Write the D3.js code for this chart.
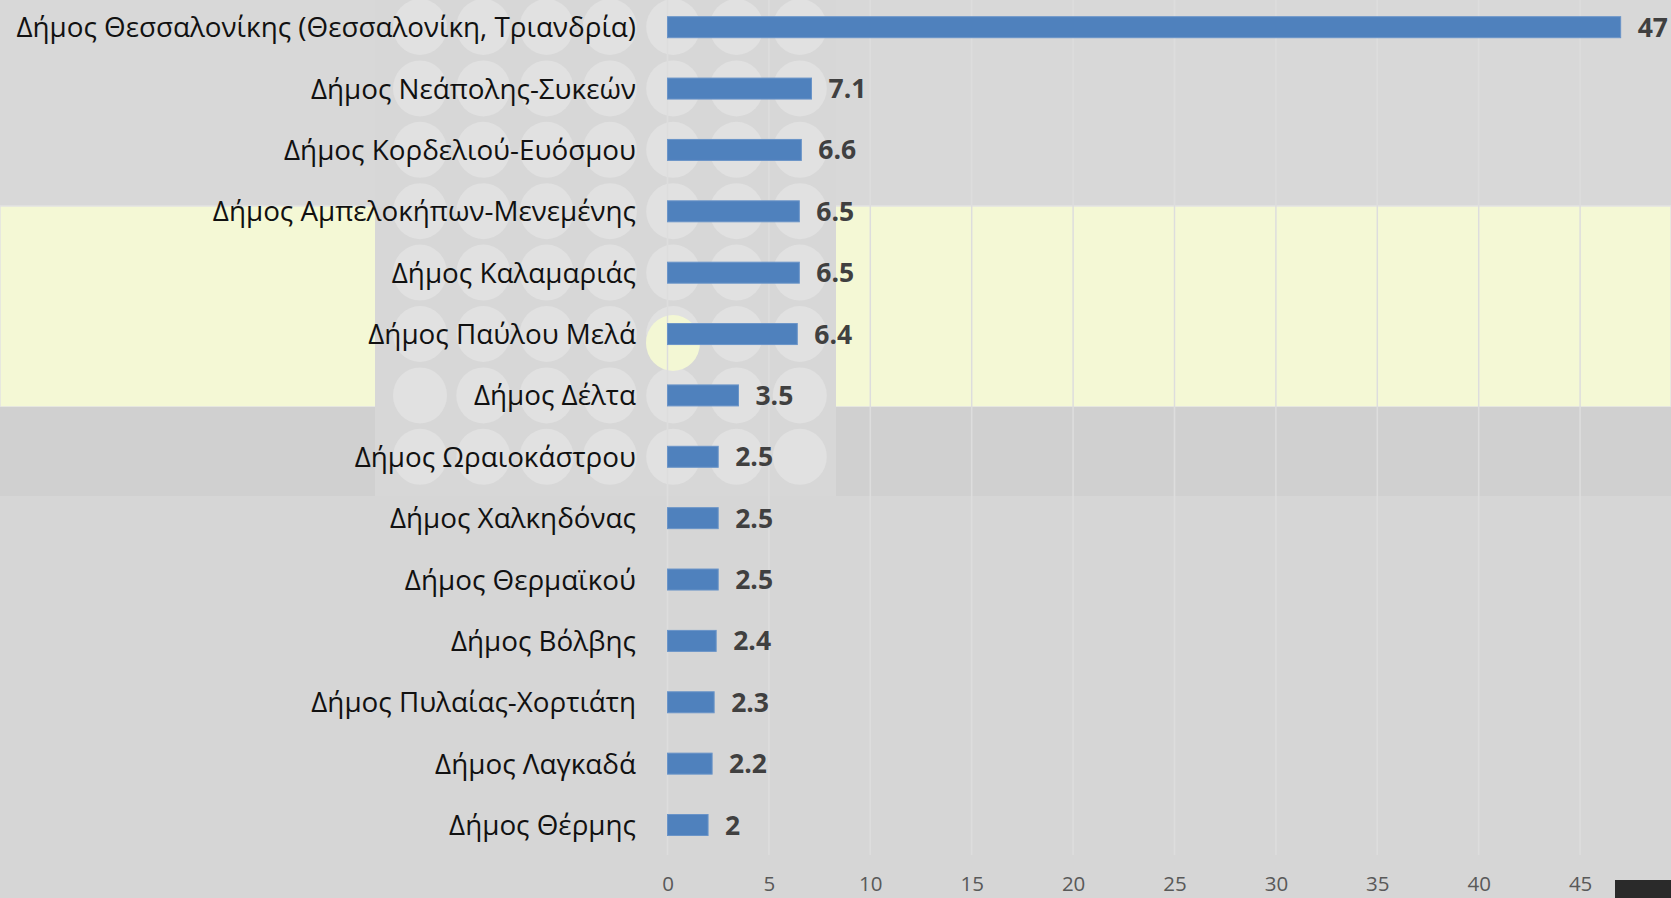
<!DOCTYPE html>
<html>
<head>
<meta charset="utf-8">
<script src="https://cdn.jsdelivr.net/npm/d3@7"></script>
<style>
  html, body { margin: 0; padding: 0; background: #d6d6d6; overflow: hidden; }
  svg { display: block; font-family: "Open Sans", "Noto Sans", sans-serif; }
</style>
</head>
<body>
<div id="chart"></div>
<script>
const categories = [
  "Δήμος Θεσσαλονίκης (Θεσσαλονίκη, Τριανδρία)",
  "Δήμος Νεάπολης-Συκεών",
  "Δήμος Κορδελιού-Ευόσμου",
  "Δήμος Αμπελοκήπων-Μενεμένης",
  "Δήμος Καλαμαριάς",
  "Δήμος Παύλου Μελά",
  "Δήμος Δέλτα",
  "Δήμος Ωραιοκάστρου",
  "Δήμος Χαλκηδόνας",
  "Δήμος Θερμαϊκού",
  "Δήμος Βόλβης",
  "Δήμος Πυλαίας-Χορτιάτη",
  "Δήμος Λαγκαδά",
  "Δήμος Θέρμης"
];
const values = [47, 7.1, 6.6, 6.5, 6.5, 6.4, 3.5, 2.5, 2.5, 2.5, 2.4, 2.3, 2.2, 2];
const xTicks = [0, 5, 10, 15, 20, 25, 30, 35, 40, 45];

const width = 1671, height = 898;

const svg = d3.select("#chart").append("svg")
  .attr("width", width)
  .attr("height", height);

// background: gray page with a pale yellow band and a dotted strip
const bg = svg.append("g");
bg.append("rect").attr("width", width).attr("height", height).attr("fill", "#d6d6d6");
bg.append("rect").attr("x", 0).attr("y", 0).attr("width", width).attr("height", 206).attr("fill", "#d8d8d8");
bg.append("rect").attr("x", 0).attr("y", 206).attr("width", width).attr("height", 201)
  .attr("fill", "#f4f8d5").attr("stroke", "#e2e2e2").attr("stroke-width", 1.5);
bg.append("rect").attr("x", 0).attr("y", 407).attr("width", width).attr("height", 89).attr("fill", "#d0d0d0");

// dotted strip behind the labels
var strip = bg.append("g");
strip.append("rect").attr("x", 375).attr("y", 0).attr("width", 461).attr("height", 496).attr("fill", "#d7d7d7");
var dotCols = d3.range(7), dotRows = d3.range(8);
dotRows.forEach(function (r) {
  dotCols.forEach(function (c) {
    strip.append("ellipse")
      .attr("cx", 420 + c * 63.3)
      .attr("cy", 27 + r * 61.4)
      .attr("rx", 27)
      .attr("ry", 28)
      .attr("fill", "#e1e1e1");
  });
});
strip.append("ellipse").attr("cx", 673).attr("cy", 343).attr("rx", 27).attr("ry", 28).attr("fill", "#f3f7d4");

// scales
var x = d3.scaleLinear().domain([0, 50]).range([667.5, 667.5 + 50 * 20.28]);
var step = 61.37;
var y = d3.scaleBand()
  .domain(categories)
  .range([27.2 - step / 2, 27.2 - step / 2 + step * categories.length])
  .paddingInner(0.658)
  .paddingOuter(0.329);

// gridlines
svg.append("g")
  .selectAll("line")
  .data(xTicks)
  .enter()
  .append("line")
  .attr("x1", d => x(d))
  .attr("x2", d => x(d))
  .attr("y1", 0)
  .attr("y2", 855)
  .attr("stroke", "#dddddd")
  .attr("stroke-width", 1.5);

// bars
svg.append("g")
  .selectAll("rect")
  .data(values)
  .enter()
  .append("rect")
  .attr("x", x(0))
  .attr("y", (d, i) => y(categories[i]))
  .attr("width", d => x(d) - x(0))
  .attr("height", y.bandwidth())
  .attr("fill", "#4f81bd")
  .attr("stroke", "#6a94c8")
  .attr("stroke-width", 1);

// value labels
svg.append("g")
  .selectAll("text")
  .data(values)
  .enter()
  .append("text")
  .attr("x", d => x(d) + 17)
  .attr("y", (d, i) => y(categories[i]) + y.bandwidth() / 2)
  .attr("dy", "0.36em")
  .attr("fill", "#404040")
  .style("font-size", "26.5px")
  .style("font-weight", "bold")
  .text(d => d);

// category labels
svg.append("g")
  .selectAll("text")
  .data(categories)
  .enter()
  .append("text")
  .attr("x", 636)
  .attr("y", d => y(d) + y.bandwidth() / 2)
  .attr("dy", "0.36em")
  .attr("text-anchor", "end")
  .attr("fill", "#111111")
  .style("font-size", "27.8px")
  .text(d => d);

// x axis
var xAxis = svg.append("g")
  .attr("transform", "translate(0,873)")
  .call(d3.axisBottom(x).tickValues(xTicks).tickSize(0).tickPadding(3));
xAxis.select(".domain").remove();
xAxis.selectAll("text")
  .attr("fill", "#595959")
  .style("font-family", "'Open Sans', sans-serif")
  .style("font-size", "20.5px");

// dark corner block
svg.append("rect").attr("x", 1615).attr("y", 880).attr("width", 56).attr("height", 18).attr("fill", "#2a2a2a");
</script>
</body>
</html>
